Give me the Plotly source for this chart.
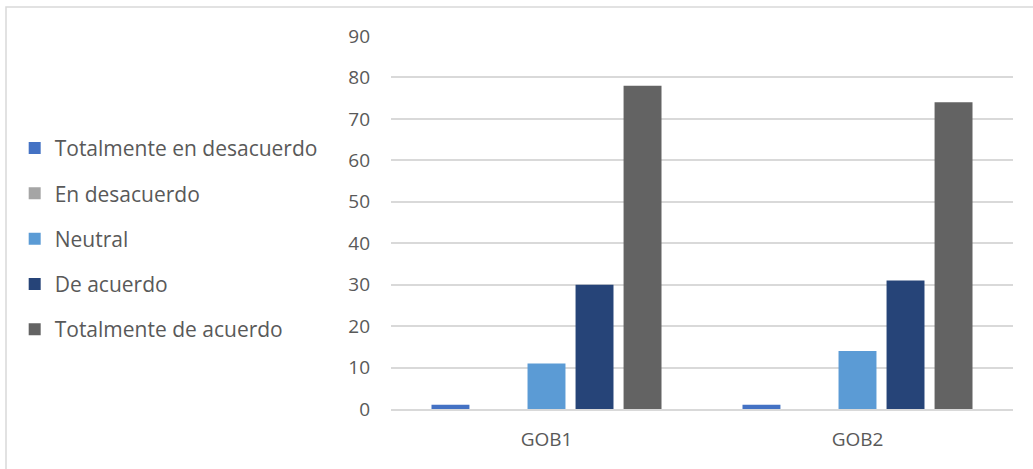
import plotly.graph_objects as go

categories = ["GOB1", "GOB2"]
series_names = [
    "Totalmente en desacuerdo",
    "En desacuerdo",
    "Neutral",
    "De acuerdo",
    "Totalmente de acuerdo",
]
totalmente_en_desacuerdo = [1, 1]
en_desacuerdo = [0, 0]
neutral = [11, 14]
de_acuerdo = [30, 31]
totalmente_de_acuerdo = [78, 74]
y_ticks = [0, 10, 20, 30, 40, 50, 60, 70, 80, 90]

series_values = [
    totalmente_en_desacuerdo,
    en_desacuerdo,
    neutral,
    de_acuerdo,
    totalmente_de_acuerdo,
]
colors = ["#4472C4", "#A5A5A5", "#5B9BD5", "#264478", "#636363"]

font_family = "Open Sans, Noto Sans, Liberation Sans, sans-serif"
text_color = "#595959"

fig = go.Figure()
for i, (name, vals, col) in enumerate(zip(series_names, series_values, colors)):
    fig.add_trace(go.Bar(
        x=categories, y=vals, name=name,
        marker=dict(color=col, line=dict(width=0)),
        legendgroup=f"g{i}",
    ))

fig.update_layout(
    width=1033, height=469,
    margin=dict(l=391, r=20, t=36, b=60),
    paper_bgcolor="white", plot_bgcolor="white",
    barmode="group", bargap=0.228, bargroupgap=0.21,
    font=dict(family=font_family, color=text_color, size=19),
    showlegend=True,
    legend=dict(
        x=-0.605, xanchor="left", y=0.456, yanchor="middle",
        traceorder="grouped", tracegroupgap=15,
        font=dict(size=21, color=text_color),
        bgcolor="rgba(0,0,0,0)",
    ),
    xaxis=dict(
        showgrid=False, showline=True, linecolor="#D9D9D9", linewidth=2,
        ticks="", tickfont=dict(size=19, color=text_color),
        range=[-0.5, 1.5], ticklabelstandoff=12,
    ),
    yaxis=dict(
        range=[0, 90], tickvals=y_ticks, showgrid=True,
        gridcolor="#D9D9D9", gridwidth=1.5, zeroline=False,
        showline=False, ticks="", tickfont=dict(size=19, color=text_color),
        ticklabelstandoff=20,
    ),
    shapes=[dict(
        type="rect", xref="paper", yref="paper",
        x0=(6 - 391) / 622, x1=(1060 - 391) / 622,
        y0=-(490 - 409) / 373, y1=(409 - 7) / 373,
        line=dict(color="#D9D9D9", width=1.5), fillcolor="rgba(0,0,0,0)",
        layer="below",
    )],
)

fig.write_html("out.html")
